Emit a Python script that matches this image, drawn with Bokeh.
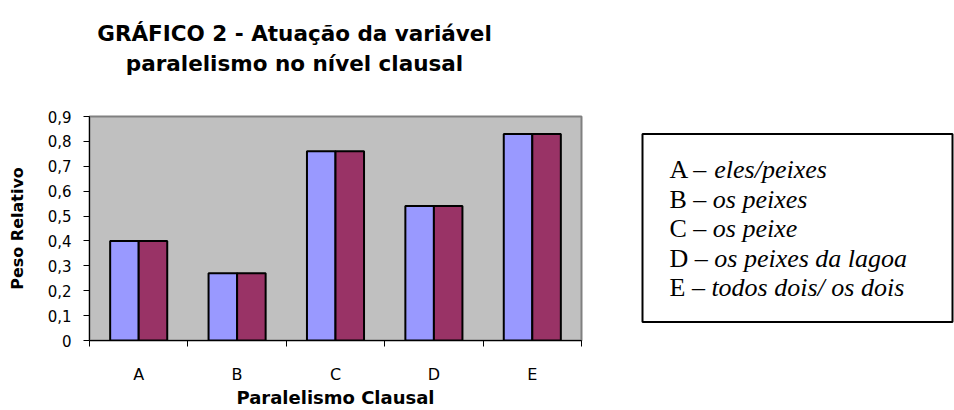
from bokeh.plotting import figure
from bokeh.models import Range1d, FixedTicker, Label, ColumnDataSource, BoxAnnotation
from bokeh.layouts import row, column
from bokeh.embed import file_html
from bokeh.resources import INLINE

# ---- data ----
categories = ["A", "B", "C", "D", "E"]
series_1 = [0.40, 0.27, 0.76, 0.54, 0.83]
series_2 = [0.40, 0.27, 0.76, 0.54, 0.83]
y_ticks = [0.0, 0.1, 0.2, 0.3, 0.4, 0.5, 0.6, 0.7, 0.8, 0.9]
y_tick_labels = ["0", "0,1", "0,2", "0,3", "0,4", "0,5", "0,6", "0,7", "0,8", "0,9"]
legend_keys = ["A", "B", "C", "D", "E"]
legend_terms = ["eles/peixes", "os peixes", "os peixe", "os peixes da lagoa", "todos dois/ os dois"]
title_lines = ["GRÁFICO 2 - Atuação da variável", "paralelismo no nível clausal"]
x_title = "Paralelismo Clausal"
y_title = "Peso Relativo"

# ---- style / layout constants ----
BAR_W = 0.29
OFF = 0.145
SANS = "DejaVu Sans"
SERIF = "'Liberation Serif', 'Times New Roman', serif"
TOP_H = 100          # height of the title strip
BODY_H = 410 - TOP_H

n = len(categories)
centers = [i + 0.5 for i in range(n)]
bounds = [float(i) for i in range(n + 1)]

# ---- title strip (data units = pixels) ----
t = figure(width=954, height=TOP_H, x_range=Range1d(0, 865), y_range=Range1d(0, TOP_H),
           output_backend="svg", toolbar_location=None,
           x_axis_location=None, y_axis_location=None,
           min_border_left=89, min_border_right=0, min_border_top=0, min_border_bottom=0,
           background_fill_color="white", border_fill_color="white", outline_line_color=None)
t.xgrid.visible = False
t.ygrid.visible = False
for txt, yb in zip(title_lines, [TOP_H - 33, TOP_H - 63]):
    t.add_layout(Label(x=205, y=yb, text=txt, text_font=SANS, text_font_style="bold",
                       text_font_size="21.5px", text_align="center",
                       text_baseline="alphabetic", text_color="black"))

# ---- main chart ----
p = figure(width=600, height=BODY_H,
           x_range=Range1d(0, n), y_range=Range1d(0, 0.9),
           output_backend="svg", toolbar_location=None,
           min_border_left=89, min_border_right=19,
           min_border_top=16, min_border_bottom=64,
           background_fill_color="#C0C0C0", border_fill_color="white",
           outline_line_color="#808080", outline_line_width=2)
p.xgrid.visible = False
p.ygrid.visible = False

src1 = ColumnDataSource(dict(x=[c - OFF for c in centers], top=series_1))
src2 = ColumnDataSource(dict(x=[c + OFF for c in centers], top=series_2))
p.vbar(x="x", top="top", bottom=0, width=BAR_W, source=src1,
       fill_color="#9999FF", line_color="black", line_width=2)
p.vbar(x="x", top="top", bottom=0, width=BAR_W, source=src2,
       fill_color="#993366", line_color="black", line_width=2)

# x axis: ticks at category boundaries, labels at centres
xa = p.xaxis[0]
xa.ticker = FixedTicker(ticks=centers, minor_ticks=bounds)
xa.major_label_overrides = {c: lab for c, lab in zip(centers, categories)}
xa.major_tick_out = 0
xa.major_tick_in = 0
xa.minor_tick_out = 6
xa.minor_tick_in = 0
xa.minor_tick_line_color = "black"
xa.axis_line_color = "black"
xa.major_label_standoff = 18
xa.major_label_text_font = SANS
xa.major_label_text_font_size = "16px"
xa.major_label_text_color = "black"
xa.axis_label = x_title
xa.axis_label_standoff = 0
xa.axis_label_text_font = SANS
xa.axis_label_text_font_style = "bold"
xa.axis_label_text_font_size = "18px"
xa.axis_label_text_color = "black"

ya = p.yaxis[0]
ya.ticker = FixedTicker(ticks=y_ticks)
ya.major_label_overrides = {tk: lab for tk, lab in zip(y_ticks, y_tick_labels)}
ya.major_tick_out = 6
ya.major_tick_in = 0
ya.minor_tick_line_color = None
ya.major_tick_line_color = "black"
ya.axis_line_color = "black"
ya.major_label_standoff = 12
ya.major_label_text_font = SANS
ya.major_label_text_font_size = "15px"
ya.major_label_text_color = "black"
ya.axis_label = y_title
ya.axis_label_standoff = 18
ya.axis_label_text_font = SANS
ya.axis_label_text_font_style = "bold"
ya.axis_label_text_font_size = "16px"
ya.axis_label_text_color = "black"

# ---- legend box (data units = pixels inside this frame) ----
FW, FH = 354, 230
q = figure(width=354, height=BODY_H, x_range=Range1d(0, FW), y_range=Range1d(0, FH),
           output_backend="svg", toolbar_location=None,
           x_axis_location=None, y_axis_location=None,
           min_border_left=0, min_border_right=0,
           min_border_top=16, min_border_bottom=64,
           background_fill_color="white", border_fill_color="white",
           outline_line_color=None)
q.xgrid.visible = False
q.ygrid.visible = False
q.add_layout(BoxAnnotation(left=42, right=352, bottom=19, top=212,
                           fill_alpha=0, line_color="black", line_alpha=1.0, line_width=2))

LEG_SIZE = 26
lead_w = {"A": 722, "B": 667, "C": 667, "D": 722, "E": 611}
baselines = [176, 145, 115, 84, 54]
for key, term, yb in zip(legend_keys, legend_terms, baselines):
    q.add_layout(Label(x=69, y=yb, text=key + " \u2013", text_font=SERIF,
                       text_font_size=f"{LEG_SIZE}px", text_baseline="alphabetic",
                       text_color="black"))
    xi = 69 + (lead_w[key] + 1000) * LEG_SIZE / 1000
    q.add_layout(Label(x=xi, y=yb, text=term, text_font=SERIF, text_font_style="italic",
                       text_font_size=f"{LEG_SIZE}px", text_baseline="alphabetic",
                       text_color="black"))

layout = column(t, row(p, q))
open("out.html", "w").write(file_html(layout, INLINE))
